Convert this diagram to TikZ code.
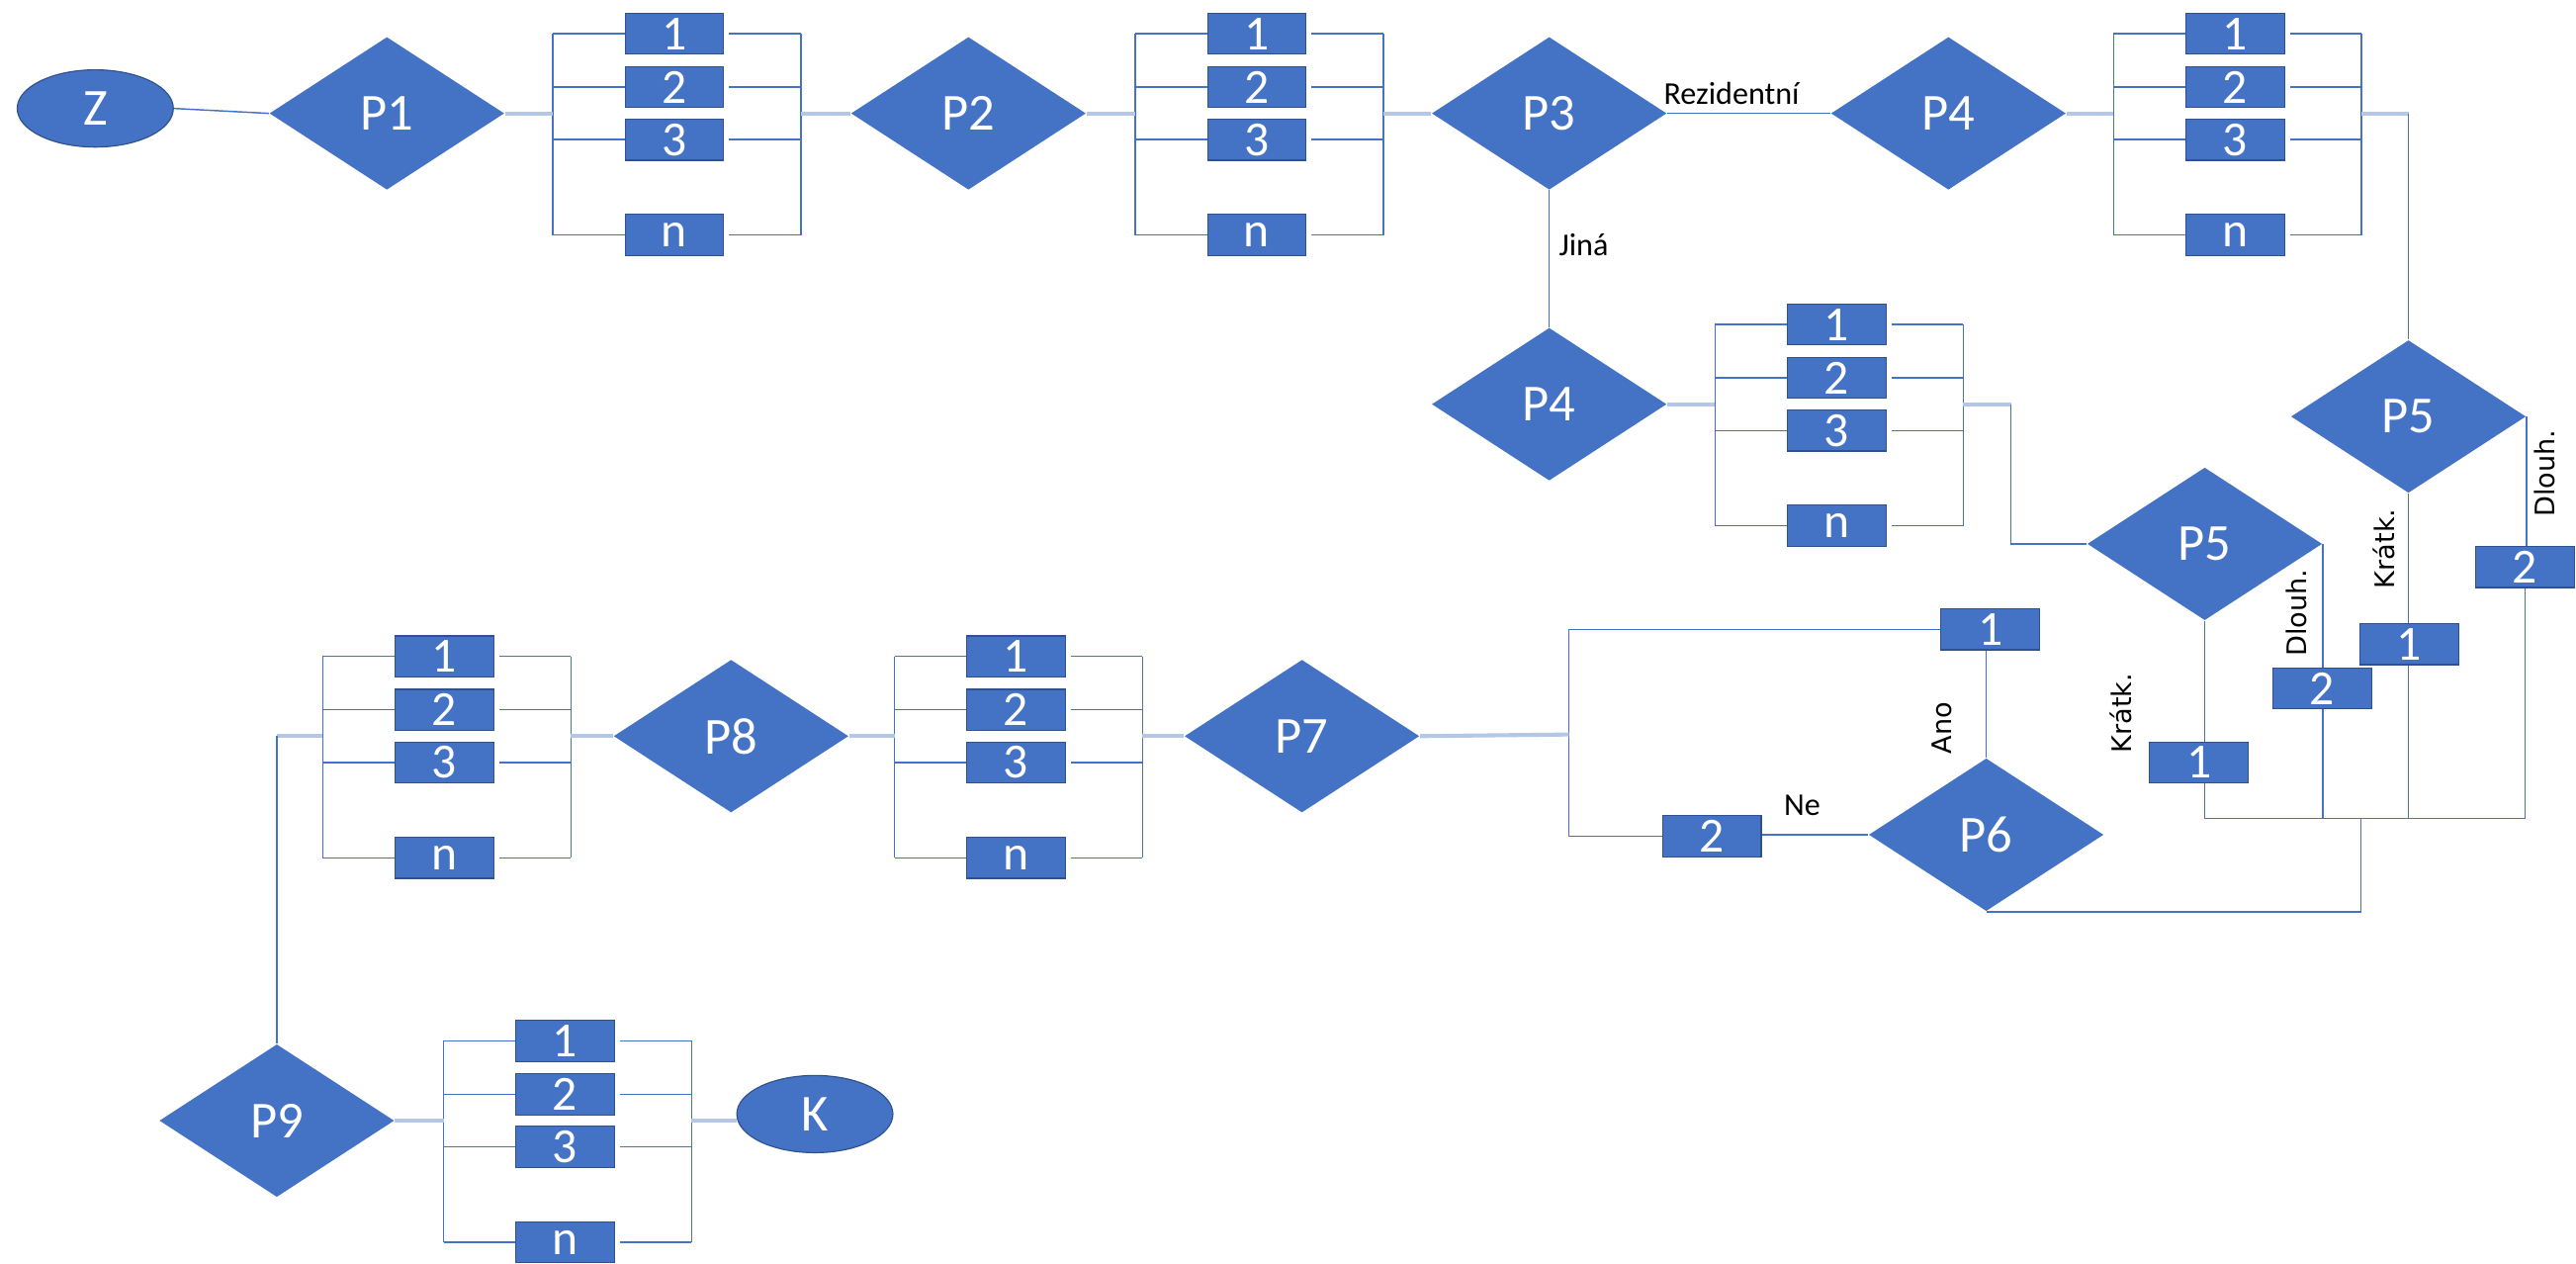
\documentclass[tikz,border=0pt]{standalone}
\usepackage{fontspec}
\setmainfont{Carlito}
\newfontfamily\vlabelfont{DejaVu Sans}
\usetikzlibrary{shapes.geometric}
\definecolor{ofblue}{HTML}{4472C4}
\definecolor{ofedge}{HTML}{2F528F}
\definecolor{oflight}{HTML}{B4C7E7}

\begin{document}
\begin{tikzpicture}[x=0.2mm,y=-0.2mm,
    every node/.style={font=\fontsize{17}{19}\selectfont},
    cond/.style={diamond,fill=ofblue,text=white,inner sep=0pt,minimum width=28.6mm,minimum height=18.6mm,font=\fontsize{18}{20}\selectfont},
    term/.style={ellipse,fill=ofblue,draw=ofedge,line width=0.4pt,text=white,inner sep=0pt,minimum width=19mm,minimum height=9.4mm,font=\fontsize{18}{20}\selectfont},
    opt/.style={rectangle,fill=ofblue,draw=ofedge,line width=0.4pt,text=white,inner sep=0pt,minimum width=12mm,minimum height=5mm,font=\fontsize{17}{19}\selectfont},
    wire/.style={draw=ofblue,line width=0.5pt},
    feed/.style={draw=oflight,line width=1.4pt},
    lbl/.style={font=\fontsize{11}{13}\selectfont,text=black,inner sep=0pt},
    vlbl/.style={font=\vlabelfont\fontsize{9.3}{11}\selectfont,text=black,inner sep=0pt,rotate=90}]
\useasboundingbox (0,0) rectangle (1568,769);

% Macro for block of options 1,2,3,n
\newcommand{\optblock}[3]{
    \foreach \k/\dy in {1/-48.5,2/-16,3/16,n/74}{
        \node[opt] (#1-\k) at ({#2},{#3+(\dy)}) {\k};
    }
    \coordinate (#1-l) at ({#2-74},{#3});
    \coordinate (#1-r) at ({#2+77},{#3});
    % Rails
    \draw[wire] (#1-l |- #1-1) -- (#1-l |- #1-n);
    \draw[wire] (#1-r |- #1-1) -- (#1-r |- #1-n);
    \foreach \k in {1,2,3,n}{
        \draw[wire] (#1-l |- #1-\k) -- (#1-\k.west);
        \draw[wire] ([xshift=0.6mm]#1-\k.east) -- (#1-r |- #1-\k);
    }
}

% Row 1
\node[term] (Z) at (58,66) {Z};
\node[cond] (P1) at (235.5,69) {P1};
\optblock{B1}{410.5}{69}
\node[cond] (P2) at (589.5,69) {P2};
\optblock{B2}{765}{69}
\node[cond] (P3) at (943,69) {P3};
\node[cond] (P4) at (1186,69) {P4};
\optblock{B3}{1360.5}{69}
\coordinate (T5) at (1466,69);

\draw[wire] (Z.east) -- (P1.west);
\draw[feed] (P1.east) -- (B1-l);
\draw[feed] (B1-r) -- (P2.west);
\draw[feed] (P2.east) -- (B2-l);
\draw[feed] (B2-r) -- (P3.west);
\draw[wire] (P3.east) -- (P4.west);
\node[lbl] (rez) at (1054,57) {Rezidentní};
\draw[feed] (P4.east) -- (B3-l);
\draw[feed] (B3-r) -- (T5);

% Branch Jina
\node[cond] (Q4) at (943,246) {P4};
\optblock{B4}{1118}{246}
\coordinate (T4) at (1224,246);
\node[cond] (Q5) at (1342,331) {P5};

\draw[wire] (P3.south) -- (Q4.north);
\node[lbl] (jina) at (964,149) {Jiná};
\draw[feed] (Q4.east) -- (B4-l);
\draw[feed] (B4-r) -- (T4);
\draw[wire] (T4) |- (Q5.west);

% P5 on the right
\node[cond] (P5) at (1466,253.5) {P5};
\node[opt] (A1) at (1466.5,392) {1};
\node[opt] (A2) at (1537,345) {2};
\draw[wire] (T5) -- (P5.north);
\draw[wire] (P5.south) -- (P5.south |- A1.north);
\draw[wire] (P5.east) -- (P5.east |- A2.north);
\node[vlbl] (krA) at (1451,334) {Krátk.};
\node[vlbl] (dlA) at (1549,288) {Dlouh.};

% P5 below
\node[opt] (C1) at (1338.5,464) {1};
\node[opt] (C2) at (1413.5,419) {2};
\draw[wire] (Q5.south) -- (Q5.south |- C1.north);
\draw[wire] (Q5.east) -- (Q5.east |- C2.north);
\node[vlbl] (krC) at (1291,434) {Krátk.};
\node[vlbl] (dlC) at (1398,373) {Dlouh.};

% Joining bar
\coordinate (J) at (1437,498);
\draw[wire] (C1.south -| Q5.south) |- (A2.south |- J) -- (A2.south);
\draw[wire] (C2.south -| Q5.east) -- (Q5.east |- J);
\draw[wire] (A1.south -| P5.south) -- (P5.south |- J);

% P6
\node[cond] (P6) at (1209,508) {P6};
\node[opt] (Y1) at (1211.5,383) {1};
\node[opt] (N2) at (1042,509) {2};
\coordinate (S) at (955,447);
\draw[wire] (J) |- (P6.south);
\draw[wire] (P6.north) -- (P6.north |- Y1.south);
\draw[wire] (P6.west) -- (P6.west -| N2.east);
\draw[wire] (N2.west) -| (S) |- (Y1.west);
\node[vlbl] (ano) at (1182,443) {Ano};
\node[lbl] (ne) at (1097,490) {Ne};

% Row 3
\node[cond] (P7) at (792.5,448) {P7};
\optblock{B7}{618.5}{448}
\node[cond] (P8) at (445,448) {P8};
\optblock{B8}{270.5}{448}
\coordinate (T9) at (168.5,448);

\draw[feed] (S) -- (P7.east);
\draw[feed] (B7-r) -- (P7.west);
\draw[feed] (P8.east) -- (B7-l);
\draw[feed] (B8-r) -- (P8.west);
\draw[feed] (B8-l) -- (T9);

% Row 4
\node[cond] (P9) at (168.5,682) {P9};
\optblock{B9}{344}{682}
\node[term] (K) at (496,678) {K};

\draw[wire] (T9) -- (P9.north);
\draw[feed] (P9.east) -- (B9-l);
\draw[feed] (B9-r) -- (B9-r -| K.west);

\end{tikzpicture}
\end{document}
